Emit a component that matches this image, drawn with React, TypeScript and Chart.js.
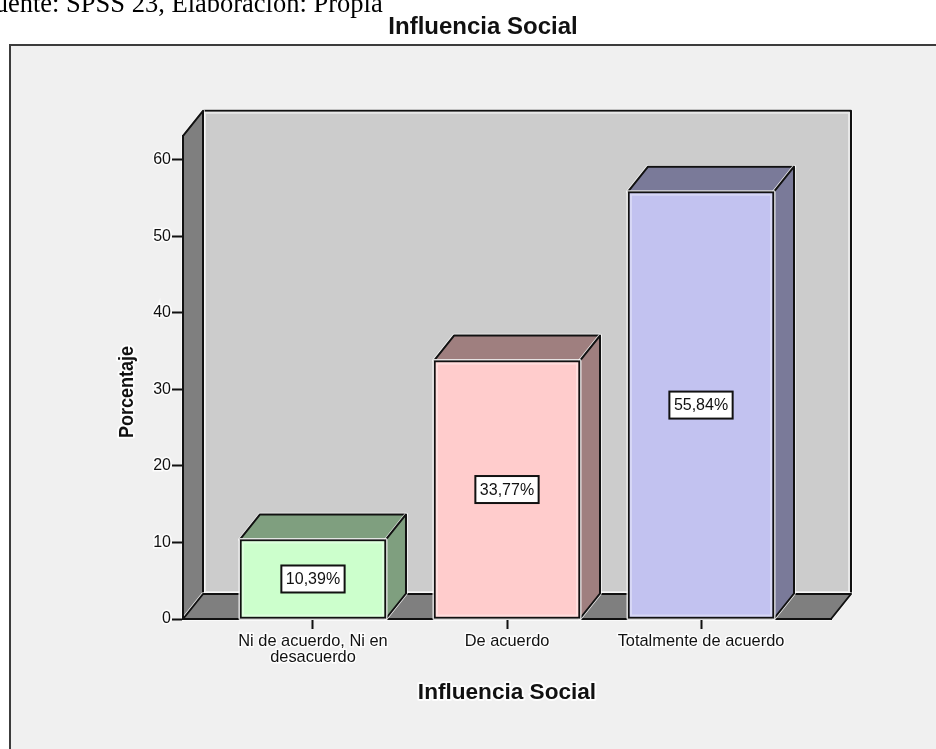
import React, { useEffect, useRef } from "react";
import { Chart, registerables } from "chart.js";

Chart.register(...registerables);

const caption = "Fuente: SPSS 23, Elaboración: Propia";
const chartTitle = "Influencia Social";
const xAxisTitle = "Influencia Social";
const yAxisTitle = "Porcentaje";
const categories: (string | string[])[] = [
  ["Ni de acuerdo, Ni en", "desacuerdo"],
  "De acuerdo",
  "Totalmente de acuerdo",
];
const percentages = [10.39, 33.77, 55.84];
const yTicks = [0, 10, 20, 30, 40, 50, 60];

const frontColors = ["#ccffcc", "#ffcccc", "#c2c2f0"];
const shadeColors = ["#7f9f7f", "#9f7f7f", "#7a7a99"];
const rimColors = ["rgba(255,255,255,0.35)", "rgba(255,255,255,0.35)", "rgba(255,255,255,0.35)"];
const INK = "#111111";
const HALO = "rgba(255,255,255,0.85)";
const DX = 20;
const DY = 25;
const SANS = "'Liberation Sans', Arial, sans-serif";

function poly(ctx: CanvasRenderingContext2D, pts: number[][], fill: string) {
  const path = () => {
    ctx.beginPath();
    pts.forEach((p, i) => (i ? ctx.lineTo(p[0], p[1]) : ctx.moveTo(p[0], p[1])));
    ctx.closePath();
  };
  path();
  ctx.lineJoin = "round";
  ctx.strokeStyle = HALO;
  ctx.lineWidth = 3.5;
  ctx.stroke();
  path();
  ctx.fillStyle = fill;
  ctx.fill();
  ctx.strokeStyle = INK;
  ctx.lineWidth = 2;
  ctx.stroke();
}

const spssPlugin = {
  id: "spss3d",
  afterLayout(chart: any) {
    // the title sits over the whole frame, not over the plot
    chart.titleBlock.right = 966;
  },
  beforeDraw(chart: any) {
    const { ctx, chartArea: a, width, height } = chart;
    ctx.save();
    ctx.fillStyle = "#f0f0f0";
    ctx.fillRect(9, 44, width - 9, height - 44);
    ctx.strokeStyle = "#3c3c3c";
    ctx.lineWidth = 2;
    ctx.beginPath();
    ctx.moveTo(10, height);
    ctx.lineTo(10, 45);
    ctx.lineTo(width, 45);
    ctx.stroke();

    const { left: l, right: r, top: t, bottom: b } = a;
    poly(ctx, [[l + DX, t - DY], [r + DX, t - DY], [r + DX, b - DY], [l + DX, b - DY]], "#cccccc");
    ctx.strokeStyle = "rgba(235,235,235,0.9)";
    ctx.lineWidth = 2;
    ctx.strokeRect(l + DX + 2, t - DY + 2, r - l - 4, b - t - 4);
    poly(ctx, [[l, t], [l + DX, t - DY], [l + DX, b - DY], [l, b]], "#7f7f7f");
    poly(ctx, [[l, b], [l + DX, b - DY], [r + DX, b - DY], [r, b]], "#7f7f7f");

    // soft halo behind the x axis title
    const xs = chart.scales.x;
    ctx.font = `bold 22.6px ${SANS}`;
    ctx.textAlign = "center";
    ctx.textBaseline = "middle";
    ctx.strokeStyle = HALO;
    ctx.lineWidth = 4;
    ctx.lineJoin = "round";
    ctx.strokeText(xAxisTitle, (l + r) / 2, xs.bottom - 56);

    // y axis title sits below the middle of the axis
    ctx.translate(127, 392);
    ctx.rotate(-Math.PI / 2);
    ctx.scale(0.88, 1);
    ctx.font = `bold 20.5px ${SANS}`;
    ctx.strokeText(yAxisTitle, 0, 0);
    ctx.fillStyle = INK;
    ctx.fillText(yAxisTitle, 0, 0);
    ctx.restore();
  },
  beforeDatasetsDraw(chart: any) {
    const { ctx } = chart;
    ctx.save();
    chart.getDatasetMeta(0).data.forEach((bar: any, i: number) => {
      const left = bar.x - bar.width / 2;
      const right = bar.x + bar.width / 2;
      const top = bar.y;
      const base = bar.base;
      poly(ctx, [[left, top], [left + DX, top - DY], [right + DX, top - DY], [right, top]], shadeColors[i]);
      poly(ctx, [[right, top], [right + DX, top - DY], [right + DX, base - DY], [right, base]], shadeColors[i]);
      ctx.strokeStyle = HALO;
      ctx.lineWidth = 3;
      ctx.strokeRect(left, top, bar.width, base - top);
    });
    ctx.restore();
  },
  afterDatasetsDraw(chart: any) {
    const { ctx } = chart;
    ctx.save();
    chart.getDatasetMeta(0).data.forEach((bar: any, i: number) => {
      const left = bar.x - bar.width / 2;
      ctx.strokeStyle = rimColors[i];
      ctx.lineWidth = 2;
      ctx.strokeRect(left + 3, bar.y + 3, bar.width - 6, bar.base - bar.y - 6);

      const label = percentages[i].toFixed(2).replace(".", ",") + "%";
      const cy = (bar.y + bar.base) / 2;
      ctx.font = `16px ${SANS}`;
      const w = ctx.measureText(label).width + 9;
      const h = 27;
      ctx.fillStyle = "#ffffff";
      ctx.fillRect(bar.x - w / 2, cy - h / 2, w, h);
      ctx.strokeStyle = INK;
      ctx.lineWidth = 2;
      ctx.strokeRect(bar.x - w / 2, cy - h / 2, w, h);
      ctx.fillStyle = INK;
      ctx.textAlign = "center";
      ctx.textBaseline = "middle";
      ctx.fillText(label, bar.x, cy + 1);
    });
    ctx.restore();
  },
};

export default function App() {
  const ref = useRef<HTMLCanvasElement>(null);
  useEffect(() => {
    const chart = new Chart(ref.current!, {
      type: "bar",
      data: {
        datasets: [
          {
            data: percentages.map((y, x) => ({ x, y })),
            backgroundColor: frontColors,
            borderColor: INK,
            borderWidth: 2,
            borderSkipped: false,
            barThickness: 146,
          },
        ],
      },
      plugins: [spssPlugin],
      options: {
        responsive: false,
        animation: false,
        layout: { padding: { left: 0, right: 105, top: 13, bottom: 0 } },
        plugins: {
          legend: { display: false },
          tooltip: { enabled: false },
          title: {
            display: true,
            text: chartTitle,
            color: INK,
            font: { family: SANS, size: 24, weight: "bold", lineHeight: 1.2 },
            padding: { top: 0, bottom: 94 },
          },
        },
        scales: {
          x: {
            type: "linear",
            offset: false,
            bounds: "data",
            min: -0.67,
            max: 2.67,
            afterBuildTicks: (s: any) => {
              s.ticks = categories.map((_, value) => ({ value }));
            },
            afterFit: (s: any) => {
              s.height = 130;
            },
            ticks: {
              callback: (v: any) => categories[v],
              autoSkip: false,
              maxRotation: 0,
              minRotation: 0,
              padding: 4,
              color: INK,
              textStrokeColor: "rgba(255,255,255,0.85)",
              textStrokeWidth: 3,
              font: { family: SANS, size: 16.4, lineHeight: 1 },
            },
            grid: { offset: false, drawOnChartArea: false, tickLength: 10, tickColor: INK, tickWidth: 2 },
            border: { display: true, color: INK, width: 2 },
            title: {
              display: true,
              text: xAxisTitle,
              color: INK,
              font: { family: SANS, size: 22.6, weight: "bold", lineHeight: 1.2 },
              padding: { top: 0, bottom: 42.5 },
            },
          },
          y: {
            min: 0,
            max: 63.14,
            afterBuildTicks: (s: any) => {
              s.ticks = yTicks.map((value) => ({ value }));
            },
            afterFit: (s: any) => {
              s.width = 183;
            },
            ticks: {
              padding: 1,
              color: INK,
              textStrokeColor: "rgba(255,255,255,0.85)",
              textStrokeWidth: 3,
              font: { family: SANS, size: 16 },
            },
            grid: { drawOnChartArea: false, tickLength: 11, tickColor: INK, tickWidth: 2 },
            border: { display: true, color: INK, width: 2 },
          },
        },
      },
    } as any);
    return () => chart.destroy();
  }, []);

  return (
    <div style={{ position: "fixed", left: 0, top: 0, width: 936, height: 749, overflow: "hidden", background: "#fff" }}>
      <canvas ref={ref} width={936} height={749} style={{ display: "block" }} />
      <div
        style={{
          position: "absolute",
          left: -20,
          top: -11,
          font: "26.5px/28px 'Liberation Serif', 'Times New Roman', serif",
          color: "#000",
          whiteSpace: "nowrap",
        }}
      >
        {caption}
      </div>
    </div>
  );
}
